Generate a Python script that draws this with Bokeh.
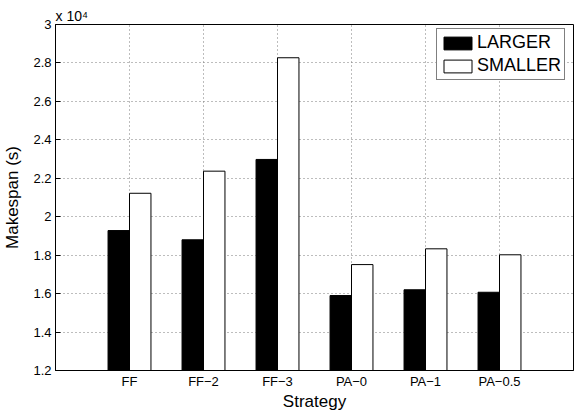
from bokeh.plotting import figure
from bokeh.models import (ColumnDataSource, Range1d, FixedTicker, Legend, LegendItem, Title)
from bokeh.transform import dodge
from bokeh.embed import file_html
from bokeh.resources import INLINE

strategies = ["FF", "FF\u22122", "FF\u22123", "PA\u22120", "PA\u22121", "PA\u22120.5"]
larger = [19280, 18800, 22980, 15900, 16200, 16070]
smaller = [21220, 22370, 28270, 17510, 18330, 18020]
y_ticks = [12000, 14000, 16000, 18000, 20000, 22000, 24000, 26000, 28000, 30000]
y_tick_labels = ["1.2", "1.4", "1.6", "1.8", "2", "2.2", "2.4", "2.6", "2.8", "3"]

xpos = list(range(1, len(strategies) + 1))
src = ColumnDataSource(data=dict(x=xpos, larger=larger, smaller=smaller))

FONT = "Liberation Sans"

p = figure(width=574, height=413, output_backend="svg", toolbar_location=None,
           x_range=Range1d(0, 7), y_range=Range1d(12000, 30000),
           min_border_left=54, min_border_right=1, min_border_top=24, min_border_bottom=43)
p.background_fill_color = "white"
p.border_fill_color = "white"
p.outline_line_color = "black"
p.outline_line_width = 1

r1 = p.vbar(x=dodge("x", -0.145, range=p.x_range), top="larger", bottom=0, width=0.29,
            source=src, fill_color="black", line_color="black", line_width=1)
r2 = p.vbar(x=dodge("x", 0.145, range=p.x_range), top="smaller", bottom=0, width=0.29,
            source=src, fill_color="white", line_color="black", line_width=1)

# axes
p.xaxis.ticker = FixedTicker(ticks=xpos)
p.xaxis.major_label_overrides = {x: s for x, s in zip(xpos, strategies)}
p.yaxis.ticker = FixedTicker(ticks=y_ticks)
p.yaxis.major_label_overrides = {t: s for t, s in zip(y_ticks, y_tick_labels)}
for ax in (p.xaxis, p.yaxis):
    ax.major_tick_in = 5
    ax.major_tick_out = 0
    ax.minor_tick_line_color = None
    ax.axis_line_color = "black"
    ax.major_tick_line_color = "black"
    ax.major_label_text_font = FONT
    ax.major_label_text_font_size = "13px"
    ax.major_label_text_color = "black"
    ax.axis_label_text_font = FONT
    ax.axis_label_text_font_size = "17px"
    ax.axis_label_text_font_style = "normal"
    ax.axis_label_text_color = "black"
p.xaxis.axis_label = "Strategy"
p.yaxis.axis_label = "Makespan (s)"
p.xaxis.major_label_standoff = 3
p.xaxis.axis_label_standoff = 0
p.yaxis.major_label_standoff = 4
p.yaxis.axis_label_standoff = 8

# grid
p.xgrid.ticker = FixedTicker(ticks=xpos)
p.ygrid.ticker = FixedTicker(ticks=y_ticks)
for g in (p.xgrid, p.ygrid):
    g.grid_line_color = "#7a7a7a"
    g.grid_line_dash = "1 3"
    g.grid_line_width = 1

# exponent label
p.add_layout(Title(text="x 10\u2074", align="left", offset=0, standoff=2,
                   text_font=FONT, text_font_size="14px", text_font_style="normal",
                   text_color="black"), "above")

legend = Legend(items=[LegendItem(label="LARGER", renderers=[r1]),
                       LegendItem(label="SMALLER", renderers=[r2])],
                location=(381, 290), padding=3, spacing=2,
                glyph_width=35, glyph_height=16, label_standoff=2, label_height=20,
                label_text_font=FONT, label_text_font_size="18px",
                label_text_color="black",
                border_line_color="black", border_line_width=1,
                background_fill_color="white", background_fill_alpha=1)
p.add_layout(legend)

open("out.html", "w").write(file_html(p, INLINE))
